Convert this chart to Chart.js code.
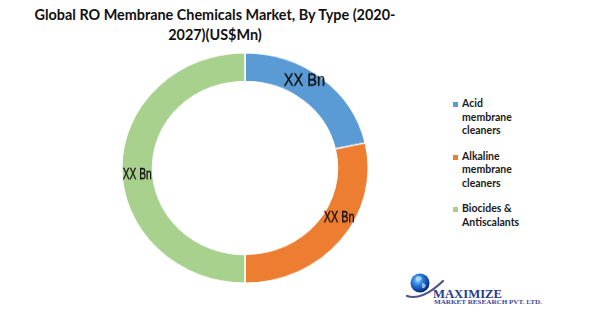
<!DOCTYPE html>
<html>
<head>
<meta charset="utf-8">
<script src="https://cdn.jsdelivr.net/npm/chart.js@4/dist/chart.umd.min.js"></script>
<style>
  html, body { margin: 0; padding: 0; background: #fff; }
  body { width: 595px; height: 327px; position: relative; overflow: hidden; font-family: Lato, "Open Sans", sans-serif; }
  #title { position: absolute; left: 15px; width: 400px; top: 5px; text-align: center; font-weight: 700; font-size: 14.4px; line-height: 20px; color: #111; }
  #ring { position: absolute; left: 121px; top: 52px; width: 248px; height: 248px; transform: scaleY(0.935); transform-origin: 0 0; }
  #legend { position: absolute; left: 453px; top: 97px; }
  .item { position: relative; padding-left: 9px; margin-bottom: 12px; font-weight: 700; font-size: 10.5px; line-height: 13.5px; color: #1a1a1a; }
  .item i { position: absolute; left: 0; top: 5px; width: 5px; height: 5px; }
  #logo { position: absolute; left: 400px; top: 268px; }
</style>
</head>
<body>
<div id="title">Global RO Membrane Chemicals Market, By Type (2020-<br>2027)(US$Mn)</div>
<div id="ring"><canvas id="c"></canvas></div>
<div id="legend"></div>
<svg id="logo" width="150" height="45" viewBox="0 0 150 45">
  <defs>
    <radialGradient id="globe" cx="0.38" cy="0.35" r="0.7">
      <stop offset="0" stop-color="#9fd4ff"/>
      <stop offset="0.35" stop-color="#2f86e0"/>
      <stop offset="0.8" stop-color="#0c3f9c"/>
      <stop offset="1" stop-color="#061f5e"/>
    </radialGradient>
  </defs>
  <path d="M7 28 Q22 33 43 13" fill="none" stroke="#4a5588" stroke-width="2.2" stroke-linecap="round"/>
  <circle cx="20" cy="15" r="9.5" fill="url(#globe)"/>
  <path d="M16 9 q4 -2 6 1 q-1 3 -4 3 q-3 -1 -2 -4z M22 15 q3 0 4 3 q-2 3 -4 2z" fill="#bfe6ff" opacity="0.7"/>
  <text x="33" y="29.5" font-family="'Liberation Serif', serif" font-weight="700" font-size="12.5" fill="#2c3a8c" textLength="69" lengthAdjust="spacingAndGlyphs">MAXIMIZE</text>
  <text x="34" y="36" font-family="'Liberation Serif', serif" font-weight="700" font-size="6.3" fill="#3a4896" textLength="108" lengthAdjust="spacingAndGlyphs">MARKET RESEARCH PVT. LTD.</text>
</svg>
<script>
// Market share by product type
const categories = ['Acid membrane cleaners', 'Alkaline membrane cleaners', 'Biocides & Antiscalants'];
const legendLines = [['Acid', 'membrane', 'cleaners'], ['Alkaline', 'membrane', 'cleaners'], ['Biocides &', 'Antiscalants']];
const shares = [21.5, 28.5, 50];
const valueLabels = ['XX Bn', 'XX Bn', 'XX Bn'];
const colors = ['#5B9BD5', '#ED7D31', '#A9D18E'];

// label look: font size, horizontal squeeze, nudge from the arc centre (screen px)
const labelStyle = [
  { size: 17, sx: 0.86, dx: -8, dy: -8 },
  { size: 16, sx: 0.68, dx: 10, dy: -13 },
  { size: 16, sx: 0.64, dx: 0, dy: 7 }
];
const squashY = 0.935;

const ringLabels = {
  id: 'ringLabels',
  afterDatasetsDraw(chart) {
    const ctx = chart.ctx;
    chart.getDatasetMeta(0).data.forEach((arc, i) => {
      const p = arc.tooltipPosition();
      const st = labelStyle[i];
      ctx.save();
      ctx.translate(p.x + st.dx, p.y + st.dy / squashY);
      ctx.scale(st.sx, 1 / squashY);
      ctx.font = st.size + 'px "Liberation Sans", Arial, sans-serif';
      ctx.fillStyle = '#0d0d0d';
      ctx.strokeStyle = '#0d0d0d';
      ctx.lineWidth = 0.35;
      ctx.textAlign = 'center';
      ctx.textBaseline = 'middle';
      ctx.fillText(valueLabels[i], 0, 0);
      ctx.strokeText(valueLabels[i], 0, 0);
      ctx.restore();
    });
  }
};

const chart = new Chart(document.getElementById('c'), {
  type: 'doughnut',
  data: {
    labels: categories,
    datasets: [{
      data: shares,
      backgroundColor: colors,
      borderColor: '#ffffff',
      borderWidth: 1.5,
      hoverOffset: 0,
      offset: 0
    }]
  },
  options: {
    responsive: true,
    maintainAspectRatio: false,
    animation: false,
    events: [],
    cutout: '75%',
    layout: { padding: 0 },
    plugins: { legend: { display: false }, tooltip: { enabled: false }, title: { display: false } }
  },
  plugins: [ringLabels]
});

// legend built from the same categories and colours
const legend = document.getElementById('legend');
categories.forEach((name, i) => {
  const d = document.createElement('div');
  d.className = 'item';
  d.title = name;
  const sw = document.createElement('i');
  sw.style.background = colors[i];
  d.appendChild(sw);
  legendLines[i].forEach((ln, k) => {
    if (k) d.appendChild(document.createElement('br'));
    d.appendChild(document.createTextNode(ln));
  });
  legend.appendChild(d);
});
</script>
</body>
</html>
